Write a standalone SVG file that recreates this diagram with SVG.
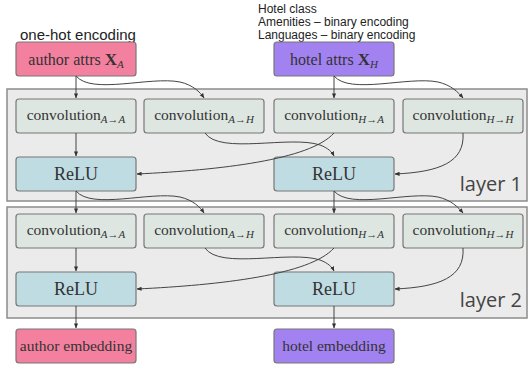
<svg xmlns="http://www.w3.org/2000/svg" width="529" height="370" viewBox="0 0 529 370">
<defs>
<style>
.panel{fill:#ebebeb;stroke:#8c8c8c;stroke-width:1.5}
.box{stroke:#777;stroke-width:1.2}
.author{fill:#f4809f}
.hotel{fill:#a282f0}
.conv{fill:#dde6e0}
.relu{fill:#c0dce3}
.lbl{font-family:"Liberation Serif","DejaVu Serif",serif;fill:#333;text-anchor:middle}
.cl{font-size:15.5px}
.rl{font-size:18px}
.sub{font-size:11px;font-style:italic}
.note{font-family:"Liberation Sans",Arial,sans-serif;fill:#222}
.layer{font-family:"Open Sans","Noto Sans",sans-serif;font-size:20px;fill:#444}
.conn path{fill:none;stroke:#444;stroke-width:1;marker-end:url(#ah)}
</style>
<marker id="ah" viewBox="0 0 6 6" refX="5.5" refY="3" markerWidth="5" markerHeight="5" orient="auto"><path d="M0,0.5 L6,3 L0,5.5 z" fill="#333"/></marker>
</defs>
<rect width="529" height="370" fill="#fff"/>
<g id="panel1"><rect class="panel" x="7" y="89" width="520" height="112"/><text class="layer" x="522" y="191" text-anchor="end">layer 1</text></g>
<g id="panel2"><rect class="panel" x="7" y="207" width="520" height="111"/><text class="layer" x="522" y="307" text-anchor="end">layer 2</text></g>
<text class="note" x="20" y="40" font-size="15">one-hot encoding</text>
<g class="note" font-size="12"><text x="258" y="13">Hotel class</text><text x="258" y="26">Amenities – binary encoding</text><text x="258" y="39">Languages – binary encoding</text></g>
<g id="author_attrs"><rect class="box author" x="16" y="42" width="120" height="34" rx="3"/><text class="lbl" x="76" y="65" font-size="16">author attrs <tspan font-weight="bold" font-size="17">X</tspan><tspan class="sub" dy="3">A</tspan></text></g>
<g id="hotel_attrs"><rect class="box hotel" x="274" y="42" width="120" height="34" rx="3"/><text class="lbl" x="334" y="65" font-size="16">hotel attrs <tspan font-weight="bold" font-size="17">X</tspan><tspan class="sub" dy="3">H</tspan></text></g>
<g id="l1_convAA"><rect class="box conv" x="16" y="99" width="120" height="34" rx="3"/><text class="lbl cl" x="76" y="120">convolution<tspan class="sub" dy="3">A→A</tspan></text></g>
<g id="l1_convAH"><rect class="box conv" x="144" y="99" width="120" height="34" rx="3"/><text class="lbl cl" x="204" y="120">convolution<tspan class="sub" dy="3">A→H</tspan></text></g>
<g id="l1_convHA"><rect class="box conv" x="274" y="99" width="120" height="34" rx="3"/><text class="lbl cl" x="334" y="120">convolution<tspan class="sub" dy="3">H→A</tspan></text></g>
<g id="l1_convHH"><rect class="box conv" x="403" y="99" width="120" height="34" rx="3"/><text class="lbl cl" x="463" y="120">convolution<tspan class="sub" dy="3">H→H</tspan></text></g>
<g id="l1_reluA"><rect class="box relu" x="16" y="157" width="120" height="34" rx="3"/><text class="lbl rl" x="76" y="180">ReLU</text></g>
<g id="l1_reluH"><rect class="box relu" x="274" y="157" width="120" height="34" rx="3"/><text class="lbl rl" x="334" y="180">ReLU</text></g>
<g id="l2_convAA"><rect class="box conv" x="16" y="214" width="120" height="34" rx="3"/><text class="lbl cl" x="76" y="235">convolution<tspan class="sub" dy="3">A→A</tspan></text></g>
<g id="l2_convAH"><rect class="box conv" x="144" y="214" width="120" height="34" rx="3"/><text class="lbl cl" x="204" y="235">convolution<tspan class="sub" dy="3">A→H</tspan></text></g>
<g id="l2_convHA"><rect class="box conv" x="274" y="214" width="120" height="34" rx="3"/><text class="lbl cl" x="334" y="235">convolution<tspan class="sub" dy="3">H→A</tspan></text></g>
<g id="l2_convHH"><rect class="box conv" x="403" y="214" width="120" height="34" rx="3"/><text class="lbl cl" x="463" y="235">convolution<tspan class="sub" dy="3">H→H</tspan></text></g>
<g id="l2_reluA"><rect class="box relu" x="16" y="272" width="120" height="34" rx="3"/><text class="lbl rl" x="76" y="295">ReLU</text></g>
<g id="l2_reluH"><rect class="box relu" x="274" y="272" width="120" height="34" rx="3"/><text class="lbl rl" x="334" y="295">ReLU</text></g>
<g id="author_emb"><rect class="box author" x="16" y="329" width="120" height="34" rx="3"/><text class="lbl" x="76" y="351" font-size="15.5">author embedding</text></g>
<g id="hotel_emb"><rect class="box hotel" x="274" y="329" width="120" height="34" rx="3"/><text class="lbl" x="334" y="351" font-size="15.5">hotel embedding</text></g>
<g class="conn">
<path d="M76,76 L76,98"/>
<path d="M76,76 C92,95 150,76 180,82 C193,85 200,92 204,98"/>
<path d="M334,76 L334,98"/>
<path d="M334,76 C350,95 408,76 438,82 C451,85 458,92 463,98"/>
<path d="M76,133 L76,156"/>
<path d="M205,133 C220,155 290,135 320,145 C328,148 332,152 334,156"/>
<path d="M334,133 C310,160 220,170 137,174"/>
<path d="M463,133 C465,162 440,172 395,174"/>
<path d="M76,191 L76,213"/>
<path d="M76,191 C92,210 150,191 180,197 C193,200 200,207 204,213"/>
<path d="M334,191 L334,213"/>
<path d="M334,191 C350,210 408,191 438,197 C451,200 458,207 463,213"/>
<path d="M76,248 L76,271"/>
<path d="M205,248 C220,270 290,250 320,260 C328,263 332,267 334,271"/>
<path d="M334,248 C310,275 220,285 137,289"/>
<path d="M463,248 C465,277 440,287 395,289"/>
<path d="M76,306 L76,328"/>
<path d="M334,306 L334,328"/>
</g>
</svg>
